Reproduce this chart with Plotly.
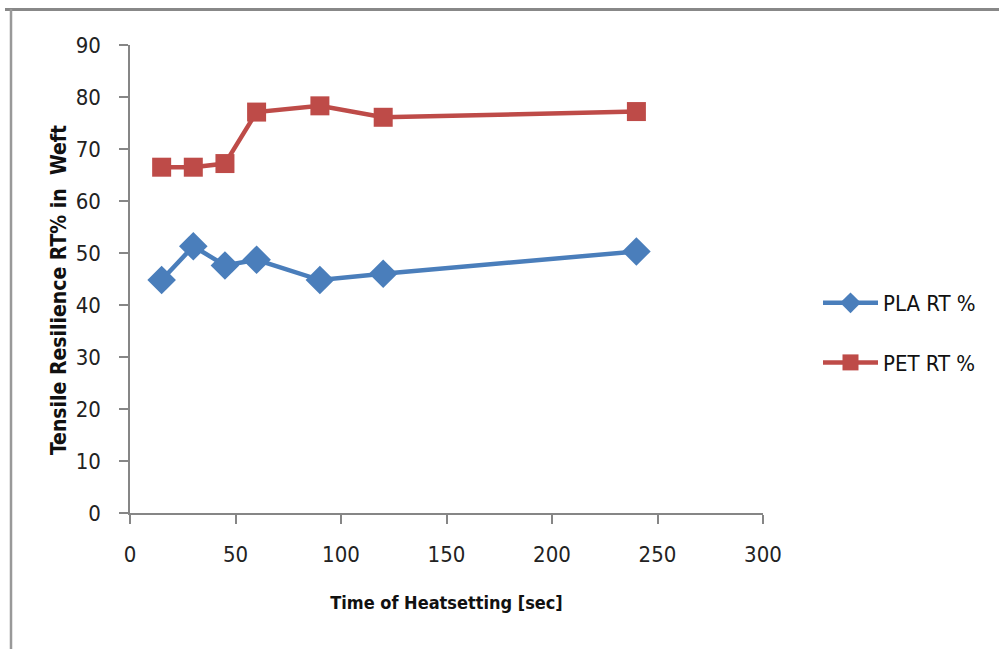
import plotly.graph_objects as go

time_sec = [15, 30, 45, 60, 90, 120, 240]
pla_rt = [44.8, 51.3, 47.6, 48.7, 44.8, 46.0, 50.3]
pet_rt = [66.5, 66.5, 67.2, 77.1, 78.3, 76.1, 77.2]
series_names = ["PLA RT %", "PET RT %"]
x_title = "Time of Heatsetting [sec]"
y_title = "Tensile Resilience RT% in  Weft"

W, H = 999, 649
L, R, T, B = 130, 236, 45, 136

fig = go.Figure()
fig.add_trace(go.Scatter(
    x=time_sec, y=pla_rt, name=series_names[0], mode="lines+markers",
    line=dict(color="#4A7EBB", width=4.5),
    marker=dict(symbol="diamond", size=22, color="#4A7EBB"),
    legendgroup="a"))
fig.add_trace(go.Scatter(
    x=time_sec, y=pet_rt, name=series_names[1], mode="lines+markers",
    line=dict(color="#BE4B48", width=4.5),
    marker=dict(symbol="square", size=19, color="#BE4B48"),
    legendgroup="b"))

FAM = "Liberation Sans Narrow, DejaVu Sans Condensed, Lato, sans-serif"
tick_font = dict(family=FAM, size=22, color="#222")
title_font = dict(family=FAM, size=18, color="#111")

fig.update_xaxes(range=[0, 300], tickvals=[0, 50, 100, 150, 200, 250, 300],
                 showline=True, linecolor="#868686", linewidth=1.5,
                 ticks="outside", ticklen=9, tickcolor="#868686", tickwidth=1.5,
                 ticklabelstandoff=12,
                 showgrid=False, zeroline=False, tickfont=tick_font,
                 title=dict(text="<b>%s</b>" % x_title, font=title_font, standoff=30))
fig.update_yaxes(range=[0, 90], tickvals=list(range(0, 91, 10)),
                 showline=True, linecolor="#868686", linewidth=1.5,
                 ticks="outside", ticklen=9, tickcolor="#868686", tickwidth=1.5,
                 ticklabelstandoff=14,
                 showgrid=False, zeroline=False, tickfont=tick_font)

pw = W - L - R
ph = H - T - B
def px(xp):
    return (xp - L) / pw
def py(yp):
    return (H - B - yp) / ph

fig.update_layout(
    width=W, height=H,
    margin=dict(l=L, r=R, t=T, b=B),
    paper_bgcolor="white", plot_bgcolor="white",
    legend=dict(x=px(818), y=py(282), xanchor="left", yanchor="top",
                font=dict(family=FAM, size=22, color="#111"),
                tracegroupgap=28, itemwidth=55, bgcolor="rgba(0,0,0,0)"),
    showlegend=True,
    annotations=[
        dict(text="<b>%s</b>" % y_title, xref="paper", yref="paper",
             x=px(59), y=py(290), xanchor="center", yanchor="middle",
             textangle=-90, showarrow=False,
             font=dict(family=FAM, size=21, color="#111")),
    ],
    shapes=[
        dict(type="line", xref="paper", yref="paper", x0=px(5), x1=px(999), y0=py(9.5), y1=py(9.5),
             line=dict(color="#888", width=3)),
        dict(type="line", xref="paper", yref="paper", x0=px(11), x1=px(11), y0=py(9), y1=py(649),
             line=dict(color="#999", width=2.5)),
    ],
)

fig.write_html("out.html")
